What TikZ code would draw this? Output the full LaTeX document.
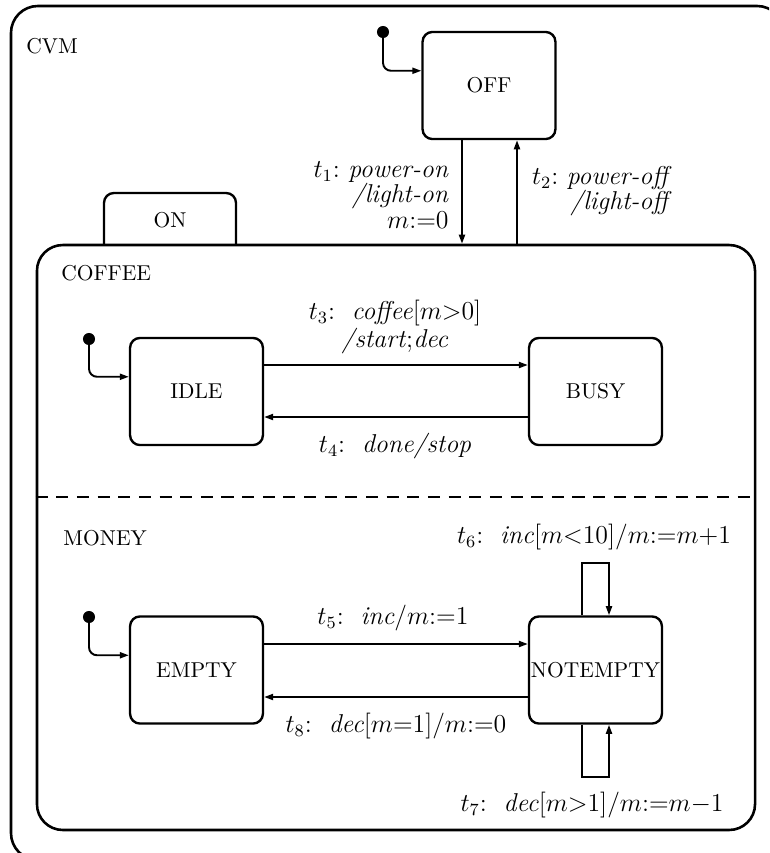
\documentclass[tikz,border=0pt]{standalone}
\usetikzlibrary{arrows.meta,calc}
\begin{document}
\begin{tikzpicture}[x=0.465pt,y=-0.465pt,
  frame/.style={draw, line width=1.2pt},
  state/.style={draw, line width=1.1pt, rounded corners=4.6pt, minimum width=61.8pt, minimum height=49.8pt, inner sep=0pt, font=\fontsize{10}{12}\selectfont},
  arr/.style={line width=0.9pt, -{Triangle[length=4.2pt,width=2.8pt]}},
  initdot/.style={circle, fill, inner sep=0pt, minimum size=5.6pt},
  lbl/.style={font=\fontsize{12}{11.8}\selectfont, inner sep=0pt},
  region/.style={font=\fontsize{10}{12}\selectfont, inner sep=0pt, anchor=west}]
\useasboundingbox (0,0) rectangle (769,853);
\clip (0,0) rectangle (769,853);
% outer frame CVM
\draw[frame, rounded corners=12.5pt] (11,6) rectangle (784,860);
\node[region] (cvm) at (26,46) {CVM};
% ON tab
\draw[line width=1.1pt, rounded corners=4.6pt] (104,245) -- (104,193) -- (236,193) -- (236,245);
\node[font=\fontsize{10}{12}\selectfont, inner sep=0pt] (onlbl) at (170,220) {ON};
% ON box
\node[frame, rounded corners=12pt, minimum width=333.9pt, minimum height=272pt, inner sep=0pt] (on) at (396,537.5) {};
\coordinate (dl) at (0,497);
\draw[line width=1pt, dash pattern=on 5.6pt off 4pt] (on.west |- dl) -- (on.east |- dl);
\node[region] (coffee) at (61,273) {COFFEE};
\node[region] (money) at (63,538) {MONEY};
% states
\node[state] (off) at (489,85.5) {OFF};
\node[state] (idle) at (196.5,391.5) {IDLE};
\node[state] (busy) at (595.5,391.5) {BUSY};
\node[state] (empty) at (196.5,670) {EMPTY};
\node[state] (ne) at (595.5,670) {NOTEMPTY};
% initial states
\node[initdot] (i0) at (383,32) {};
\node[initdot] (i1) at (89,339) {};
\node[initdot] (i2) at (89,617) {};
\draw[arr, rounded corners=3.7pt] (i0.center) |- ($(off.north west)+(0,40)$);
\draw[arr, rounded corners=3.7pt] (i1.center) |- ($(idle.north west)+(0,40)$);
\draw[arr, rounded corners=3.7pt] (i2.center) |- ($(empty.north west)+(0,40)$);
% t1, t2
\coordinate (x1) at (462,0);
\coordinate (x2) at (517,0);
\draw[arr] (off.south -| x1) -- (on.north -| x1);
\draw[arr] (on.north -| x2) -- (off.south -| x2);
\node[lbl, anchor=east, align=right] (l1) at (449,195) {$t_1$:\ \textit{power-on}\\ \textit{/light-on}\\ $m{:=}0$};
\node[lbl, anchor=east, align=right] (l2) at (672,191) {$t_2$:\ \textit{power-off}\\ \textit{/light-off}};
% t3, t4
\coordinate (y3) at (0,365);
\coordinate (y4) at (0,417);
\draw[arr] (idle.east |- y3) -- (busy.west |- y3);
\draw[arr] (busy.west |- y4) -- (idle.east |- y4);
\node[lbl, align=center] (l3) at (395,327) {$t_3$:\ \ \textit{coffee}[$m{>}0$]\\ \textit{/start};\textit{dec}};
\node[lbl] (l4) at (395,446) {$t_4$:\ \ \textit{done/stop}};
% t5, t8
\coordinate (y5) at (0,644);
\coordinate (y8) at (0,697);
\draw[arr] (empty.east |- y5) -- (ne.west |- y5);
\draw[arr] (ne.west |- y8) -- (empty.east |- y8);
\node[lbl] (l5) at (393,618) {$t_5$:\ \ \textit{inc}/$m{:=}1$};
\node[lbl] (l8) at (396,726) {$t_8$:\ \ \textit{dec}[$m{=}1$]/$m{:=}0$};
% t6, t7 loops
\coordinate (lx) at (582,0);
\coordinate (rx) at (609,0);
\coordinate (ytop) at (0,563);
\coordinate (ybot) at (0,777);
\draw[arr] (ne.north -| lx) -- (lx |- ytop) -- (rx |- ytop) -- (ne.north -| rx);
\draw[arr] (ne.south -| lx) -- (lx |- ybot) -- (rx |- ybot) -- (ne.south -| rx);
\node[lbl] (l6) at (594,537) {$t_6$:\ \ \textit{inc}[$m{<}10$]/$m{:=}m{+}1$};
\node[lbl] (l7) at (592,805) {$t_7$:\ \ \textit{dec}[$m{>}1$]/$m{:=}m{-}1$};
\end{tikzpicture}
\end{document}
